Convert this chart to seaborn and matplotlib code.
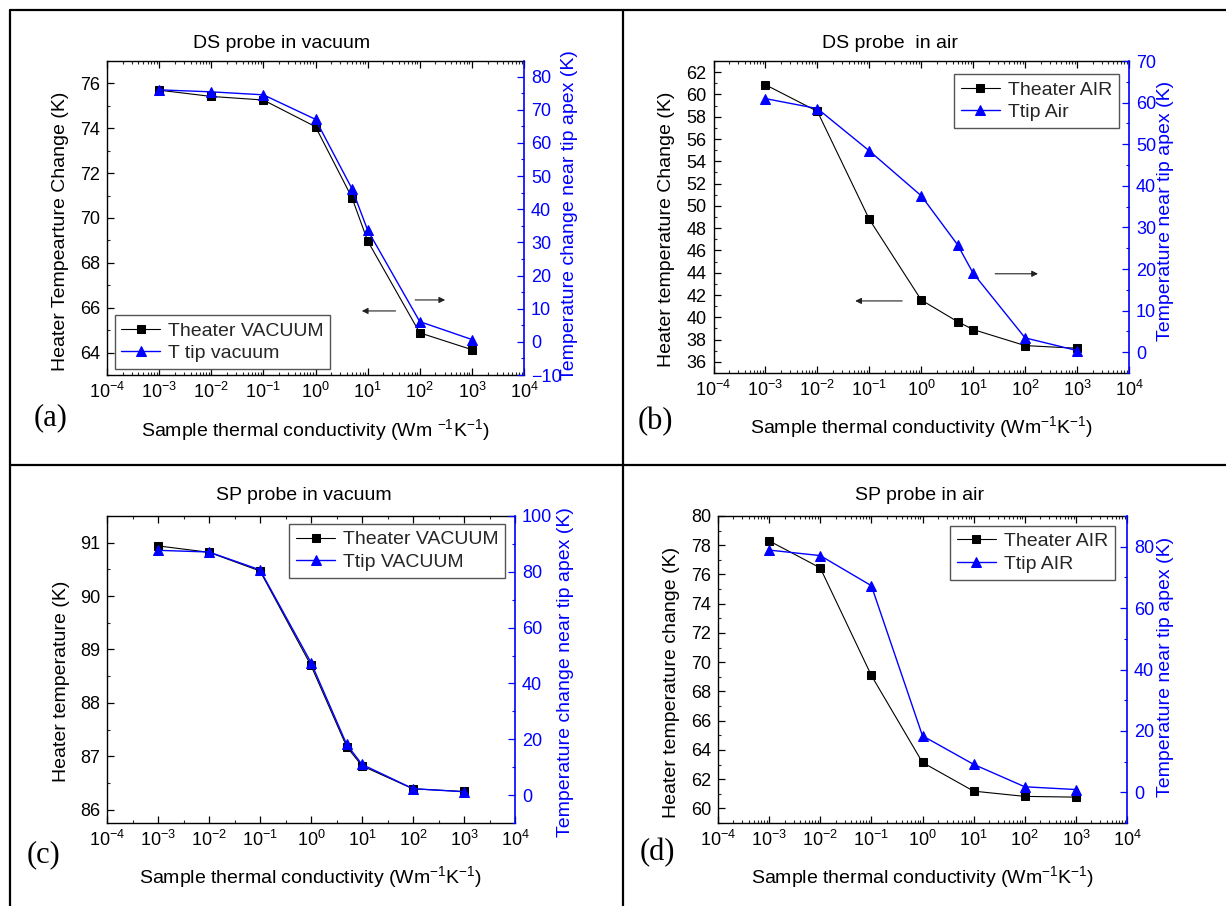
import numpy as np
import pandas as pd
import matplotlib
matplotlib.use("Agg")
import matplotlib.pyplot as plt
import seaborn as sns
from matplotlib.ticker import FixedLocator, MultipleLocator, FuncFormatter, NullFormatter
from matplotlib.lines import Line2D

# ---------------- data ----------------
k_abc = [1e-3, 1e-2, 1e-1, 1, 5, 10, 100, 1000]
k_d = [1e-3, 1e-2, 1e-1, 1, 10, 100, 1000]

heater_a = [75.70, 75.42, 75.26, 74.07, 70.91, 68.98, 64.88, 64.13]
tip_a = [76.0, 75.4, 74.5, 67.1, 46.2, 33.7, 6.1, 0.7]

heater_b = [60.87, 58.48, 48.79, 41.55, 39.61, 38.90, 37.46, 37.22]
tip_b = [60.96, 58.56, 48.4, 37.6, 25.84, 18.96, 3.44, 0.4]

heater_c = [90.94, 90.82, 90.47, 88.70, 87.18, 86.82, 86.39, 86.34]
tip_c = [87.7, 87.1, 80.7, 47.5, 18.2, 11.0, 2.3, 1.2]

heater_d = [78.30, 76.45, 69.09, 63.14, 61.18, 60.82, 60.77]
tip_d = [78.9, 77.1, 67.3, 18.4, 9.1, 1.8, 0.9]

titles = ["DS probe in vacuum", "DS probe  in air", "SP probe in vacuum", "SP probe in air"]
left_labels = ["Heater Tempearture Change (K)", "Heater temperature Change (K)",
               "Heater temperature (K)", "Heater temperature change (K)"]
right_labels = ["Temperature change near tip apex (K)", "Temperature near tip apex (K)",
                "Temperature change near tip apex (K)", "Temperature near tip apex (K)"]
heater_names = ["Theater VACUUM", "Theater AIR", "Theater VACUUM", "Theater AIR"]
tip_names = ["T tip vacuum", "Ttip Air", "Ttip VACUUM", "Ttip AIR"]
xlabels = [r"Sample thermal conductivity (Wm $^{-1}$K$^{-1}$)",
           r"Sample thermal conductivity (Wm$^{-1}$K$^{-1}$)",
           r"Sample thermal conductivity (Wm$^{-1}$K$^{-1}$)",
           r"Sample thermal conductivity (Wm$^{-1}$K$^{-1}$)"]
panel_tags = ["(a)", "(b)", "(c)", "(d)"]
x_ticks = [1e-4, 1e-3, 1e-2, 1e-1, 1, 10, 100, 1000, 1e4]

# ---------------- style ----------------
sns.set_theme(style="white")
plt.rcParams["font.family"] = ["Liberation Sans", "DejaVu Sans"]
plt.rcParams["mathtext.fontset"] = "custom"
plt.rcParams["mathtext.rm"] = "Liberation Sans"
plt.rcParams["mathtext.it"] = "Liberation Sans:italic"
plt.rcParams["mathtext.default"] = "regular"

W, H = 1226, 906
fig = plt.figure(figsize=(W / 100, H / 100), dpi=100)
fig.patch.set_facecolor("white")

BLUE = "#0000FF"


def fx(px):
    return px / W


def fy(py):
    return 1 - py / H


panels = [
    dict(box=(107, 524, 61, 375), k=k_abc, h=heater_a, t=tip_a,
         lylim=(63, 77), lmaj=2, lmin=1, rylim=(-10, 84.7), rmaj=10, rmin=5, rstart=-10,
         minor_mode="full", leg=dict(loc="lower left", anchor=(0.018, 0.019)),
         title_xy=(281.6, 43), ylab_l=(61, 231), ylab_r=(569, 215), xlab=(315, 430), tag=(51, 418),
         arrows=[((0.692, 0.204), (0.611, 0.204)), ((0.739, 0.239), (0.811, 0.239))]),
    dict(box=(713.5, 1129, 61, 373), k=k_abc, h=heater_b, t=tip_b,
         lylim=(35, 63), lmaj=2, lmin=1, rylim=(-5, 70), rmaj=10, rmin=5, rstart=0,
         minor_mode="full", leg=dict(loc="upper right", anchor=(0.975, 0.958)),
         title_xy=(890, 43), ylab_l=(666.7, 229), ylab_r=(1166, 211), xlab=(921.7, 427), tag=(655, 421.7),
         arrows=[((0.454, 0.231), (0.341, 0.231)), ((0.678, 0.318), (0.781, 0.318))]),
    dict(box=(107, 515, 516, 823), k=k_abc, h=heater_c, t=tip_c,
         lylim=(85.75, 91.5), lmaj=1, lmin=0.5, rylim=(-10, 100), rmaj=20, rmin=10, rstart=0,
         minor_mode="mid", leg=dict(loc="upper right", anchor=(0.976, 0.974)),
         title_xy=(303.5, 495), ylab_l=(61, 681), ylab_r=(565, 672), xlab=(311, 876.7), tag=(43, 855),
         arrows=[]),
    dict(box=(718, 1127, 516, 823), k=k_d, h=heater_d, t=tip_d,
         lylim=(59, 80), lmaj=2, lmin=1, rylim=(-10, 90), rmaj=20, rmin=10, rstart=0,
         minor_mode="full", leg=dict(loc="upper right", anchor=(0.970, 0.968)),
         title_xy=(919.5, 495), ylab_l=(672, 682), ylab_r=(1166, 667), xlab=(922.5, 876.7), tag=(657, 853),
         arrows=[]),
]


def dec_fmt(v, pos):
    e = int(round(np.log10(v)))
    return r"$\mathregular{10^{%d}}$" % e


for i, p in enumerate(panels):
    l, r, t, b = p["box"]
    ax = fig.add_axes([fx(l), fy(b), fx(r - l), (b - t) / H])
    ax.set_facecolor("none")
    ax2 = ax.twinx()

    df_h = pd.DataFrame({"k": p["k"], "v": p["h"]})
    df_t = pd.DataFrame({"k": p["k"], "v": p["t"]})

    sns.lineplot(data=df_h, x="k", y="v", ax=ax, color="black", linewidth=0.8,
                 marker="s", markersize=5.8, markeredgecolor="black", markerfacecolor="black",
                 label=heater_names[i], legend=False)
    sns.lineplot(data=df_t, x="k", y="v", ax=ax2, color=BLUE, linewidth=1.0,
                 marker="^", markersize=6.8, markeredgecolor=BLUE, markerfacecolor=BLUE,
                 label=tip_names[i], legend=False)

    for a in (ax, ax2):
        a.set_xscale("log")
        a.set_xlim(1e-4, 1e4)
        a.set_xlabel("")
        a.set_ylabel("")
        a.grid(False)

    ax.set_ylim(*p["lylim"])
    ax2.set_ylim(*p["rylim"])

    ax.xaxis.set_major_locator(FixedLocator(x_ticks))
    ax.xaxis.set_major_formatter(FuncFormatter(dec_fmt))
    if p["minor_mode"] == "full":
        minors = [m * 10.0 ** e for e in range(-4, 4) for m in range(2, 10)]
    else:
        minors = [10.0 ** (e + 0.5) for e in range(-4, 4)]
    ax.xaxis.set_minor_locator(FixedLocator(minors))
    ax.xaxis.set_minor_formatter(NullFormatter())

    ax.yaxis.set_major_locator(MultipleLocator(p["lmaj"]))
    ax.yaxis.set_minor_locator(MultipleLocator(p["lmin"]))
    rt = np.arange(p["rstart"], p["rylim"][1] + 1e-6, p["rmaj"])
    ax2.yaxis.set_major_locator(FixedLocator(rt))
    ax2.yaxis.set_minor_locator(MultipleLocator(p["rmin"]))

    ax.tick_params(axis="both", which="major", direction="in", length=5, width=0.9,
                   labelsize=13, colors="black", top=True, right=False, bottom=True, left=True, pad=5)
    ax.tick_params(axis="both", which="minor", direction="in", length=2.5, width=0.8,
                   top=True, right=False, bottom=True, left=True)
    ax2.tick_params(axis="y", which="major", direction="in", length=5, width=0.9,
                    labelsize=13, colors=BLUE, right=True, left=False, pad=5)
    ax2.tick_params(axis="y", which="minor", direction="in", length=2.5, width=0.8,
                    colors=BLUE, right=True, left=False)
    ax2.tick_params(axis="x", which="both", top=False, bottom=False, labeltop=False, labelbottom=False)

    for name in ("left", "bottom", "top"):
        ax.spines[name].set_color("black")
        ax.spines[name].set_linewidth(1.0)
        ax2.spines[name].set_visible(False)
    ax.spines["right"].set_visible(False)
    ax2.spines["right"].set_color(BLUE)
    ax2.spines["right"].set_linewidth(1.2)

    handles = [ax.lines[0], ax2.lines[0]]
    leg = ax2.legend(handles, [heater_names[i], tip_names[i]], loc=p["leg"]["loc"],
                     bbox_to_anchor=p["leg"]["anchor"], borderaxespad=0, fontsize=14,
                     frameon=True, fancybox=False, framealpha=1, edgecolor="#555555",
                     handlelength=2.0, handletextpad=0.4, borderpad=0.35, labelspacing=0.25)
    leg.get_frame().set_linewidth(1.0)

    for (start, end) in p["arrows"]:
        ax.annotate("", xy=end, xytext=start, xycoords="axes fraction", textcoords="axes fraction",
                    arrowprops=dict(arrowstyle="-|>", color="#222222", lw=0.8, mutation_scale=9,
                                    shrinkA=0, shrinkB=0))

    tx, ty = p["title_xy"]
    fig.text(fx(tx), fy(ty), titles[i], ha="center", va="center", fontsize=14, color="black")
    fig.text(fx(p["ylab_l"][0]), fy(p["ylab_l"][1]), left_labels[i], rotation=90,
             ha="center", va="center", fontsize=14, color="black")
    fig.text(fx(p["ylab_r"][0]), fy(p["ylab_r"][1]), right_labels[i], rotation=90,
             ha="center", va="center", fontsize=14, color=BLUE)
    fig.text(fx(p["xlab"][0]), fy(p["xlab"][1]), xlabels[i], ha="center", va="center",
             fontsize=14, color="black")
    fig.text(fx(p["tag"][0]), fy(p["tag"][1]), panel_tags[i], ha="center", va="center",
             fontsize=22, color="black", family=["Liberation Serif", "DejaVu Serif"])

# table borders
lw = 1.6
fig.add_artist(Line2D([fx(10), 1.0], [fy(10), fy(10)], color="black", lw=lw))
fig.add_artist(Line2D([fx(10), fx(10)], [fy(10), 0.0], color="black", lw=lw))
fig.add_artist(Line2D([fx(623), fx(623)], [fy(10), 0.0], color="black", lw=lw))
fig.add_artist(Line2D([fx(10), 1.0], [fy(465), fy(465)], color="black", lw=lw))

fig.savefig("out.png", dpi=100, facecolor="white")
